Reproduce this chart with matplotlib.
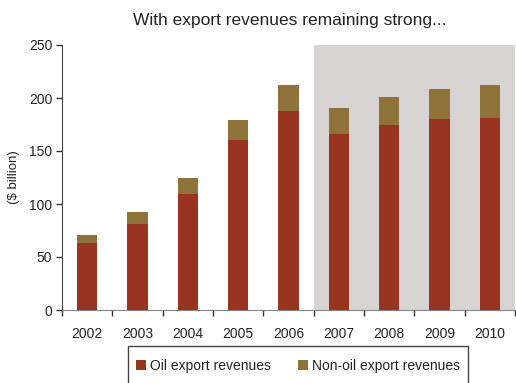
import matplotlib
matplotlib.use("Agg")
import matplotlib.pyplot as plt
from matplotlib.patches import Rectangle
import numpy as np

plt.rcParams['font.family'] = ['Liberation Sans', 'DejaVu Sans']

years = ["2002", "2003", "2004", "2005", "2006", "2007", "2008", "2009", "2010"]
oil = [63, 81, 109, 160, 188, 166, 174.5, 180, 181]
total = [71, 92.5, 124.5, 179, 212, 190.5, 201, 208.5, 212]
non_oil = [t - o for t, o in zip(total, oil)]

oil_color = "#98341F"
non_oil_color = "#8F723A"
shade_color = "#D8D3D3"

fig = plt.figure(figsize=(5.16, 3.83), dpi=100)
ax = fig.add_axes([62 / 516, 1 - 310 / 383, 453 / 516, 265 / 383])

x = np.arange(len(years))

# forecast period shading
ax.axvspan(4.5, 8.5, ymin=0, ymax=1, color=shade_color, zorder=0, lw=0)

ax.bar(x, oil, width=0.4, color=oil_color, zorder=2, label="Oil export revenues")
ax.bar(x, non_oil, width=0.4, bottom=oil, color=non_oil_color, zorder=2,
       label="Non-oil export revenues")

ax.set_xlim(-0.5, 8.5)
ax.set_ylim(0, 250)
ax.set_yticks([0, 50, 100, 150, 200, 250])
ax.set_xticks(x)
ax.set_xticklabels(years)
ax.set_xticks(np.arange(-0.5, 9.0, 1.0), minor=True)
ax.tick_params(axis='x', which='major', length=0, pad=12, labelsize=10, colors="#222222")
ax.tick_params(axis='x', which='minor', length=4, width=1, color="#333333", direction='out')
ax.tick_params(axis='y', length=4, width=1, color="#333333", labelsize=10,
               labelcolor="#222222", pad=3)

for s in ["top", "right"]:
    ax.spines[s].set_visible(False)
ax.spines["left"].set_color("#444444")
ax.spines["bottom"].set_color("#666666")
ax.spines["bottom"].set_alpha(0.8)
ax.spines["left"].set_zorder(3)
ax.spines["bottom"].set_zorder(3)
ax.set_facecolor("none")

ax.set_ylabel("($ billion)", fontsize=9.5, color="#222222")
ax.yaxis.set_label_coords(-0.093, 0.5)

fig.text(290 / 516, 1 - 20 / 383, "With export revenues remaining strong...",
         ha="center", va="center", fontsize=12.5, color="#222222")

# legend box running off the bottom edge
fig.patches.append(Rectangle((128 / 516, -0.1), 340 / 516, 0.1 + 1 - 346 / 383,
                             transform=fig.transFigure, fill=False,
                             edgecolor="#444444", lw=1))
handles, labels = ax.get_legend_handles_labels()
fig.legend(handles, labels, loc="center", bbox_to_anchor=(298 / 516, 1 - 366 / 383),
           ncol=2, frameon=False, fontsize=10, handlelength=0.7, handleheight=0.7,
           handletextpad=0.3, columnspacing=2.0, labelcolor="#222222")

fig.savefig("out.png", dpi=100)
